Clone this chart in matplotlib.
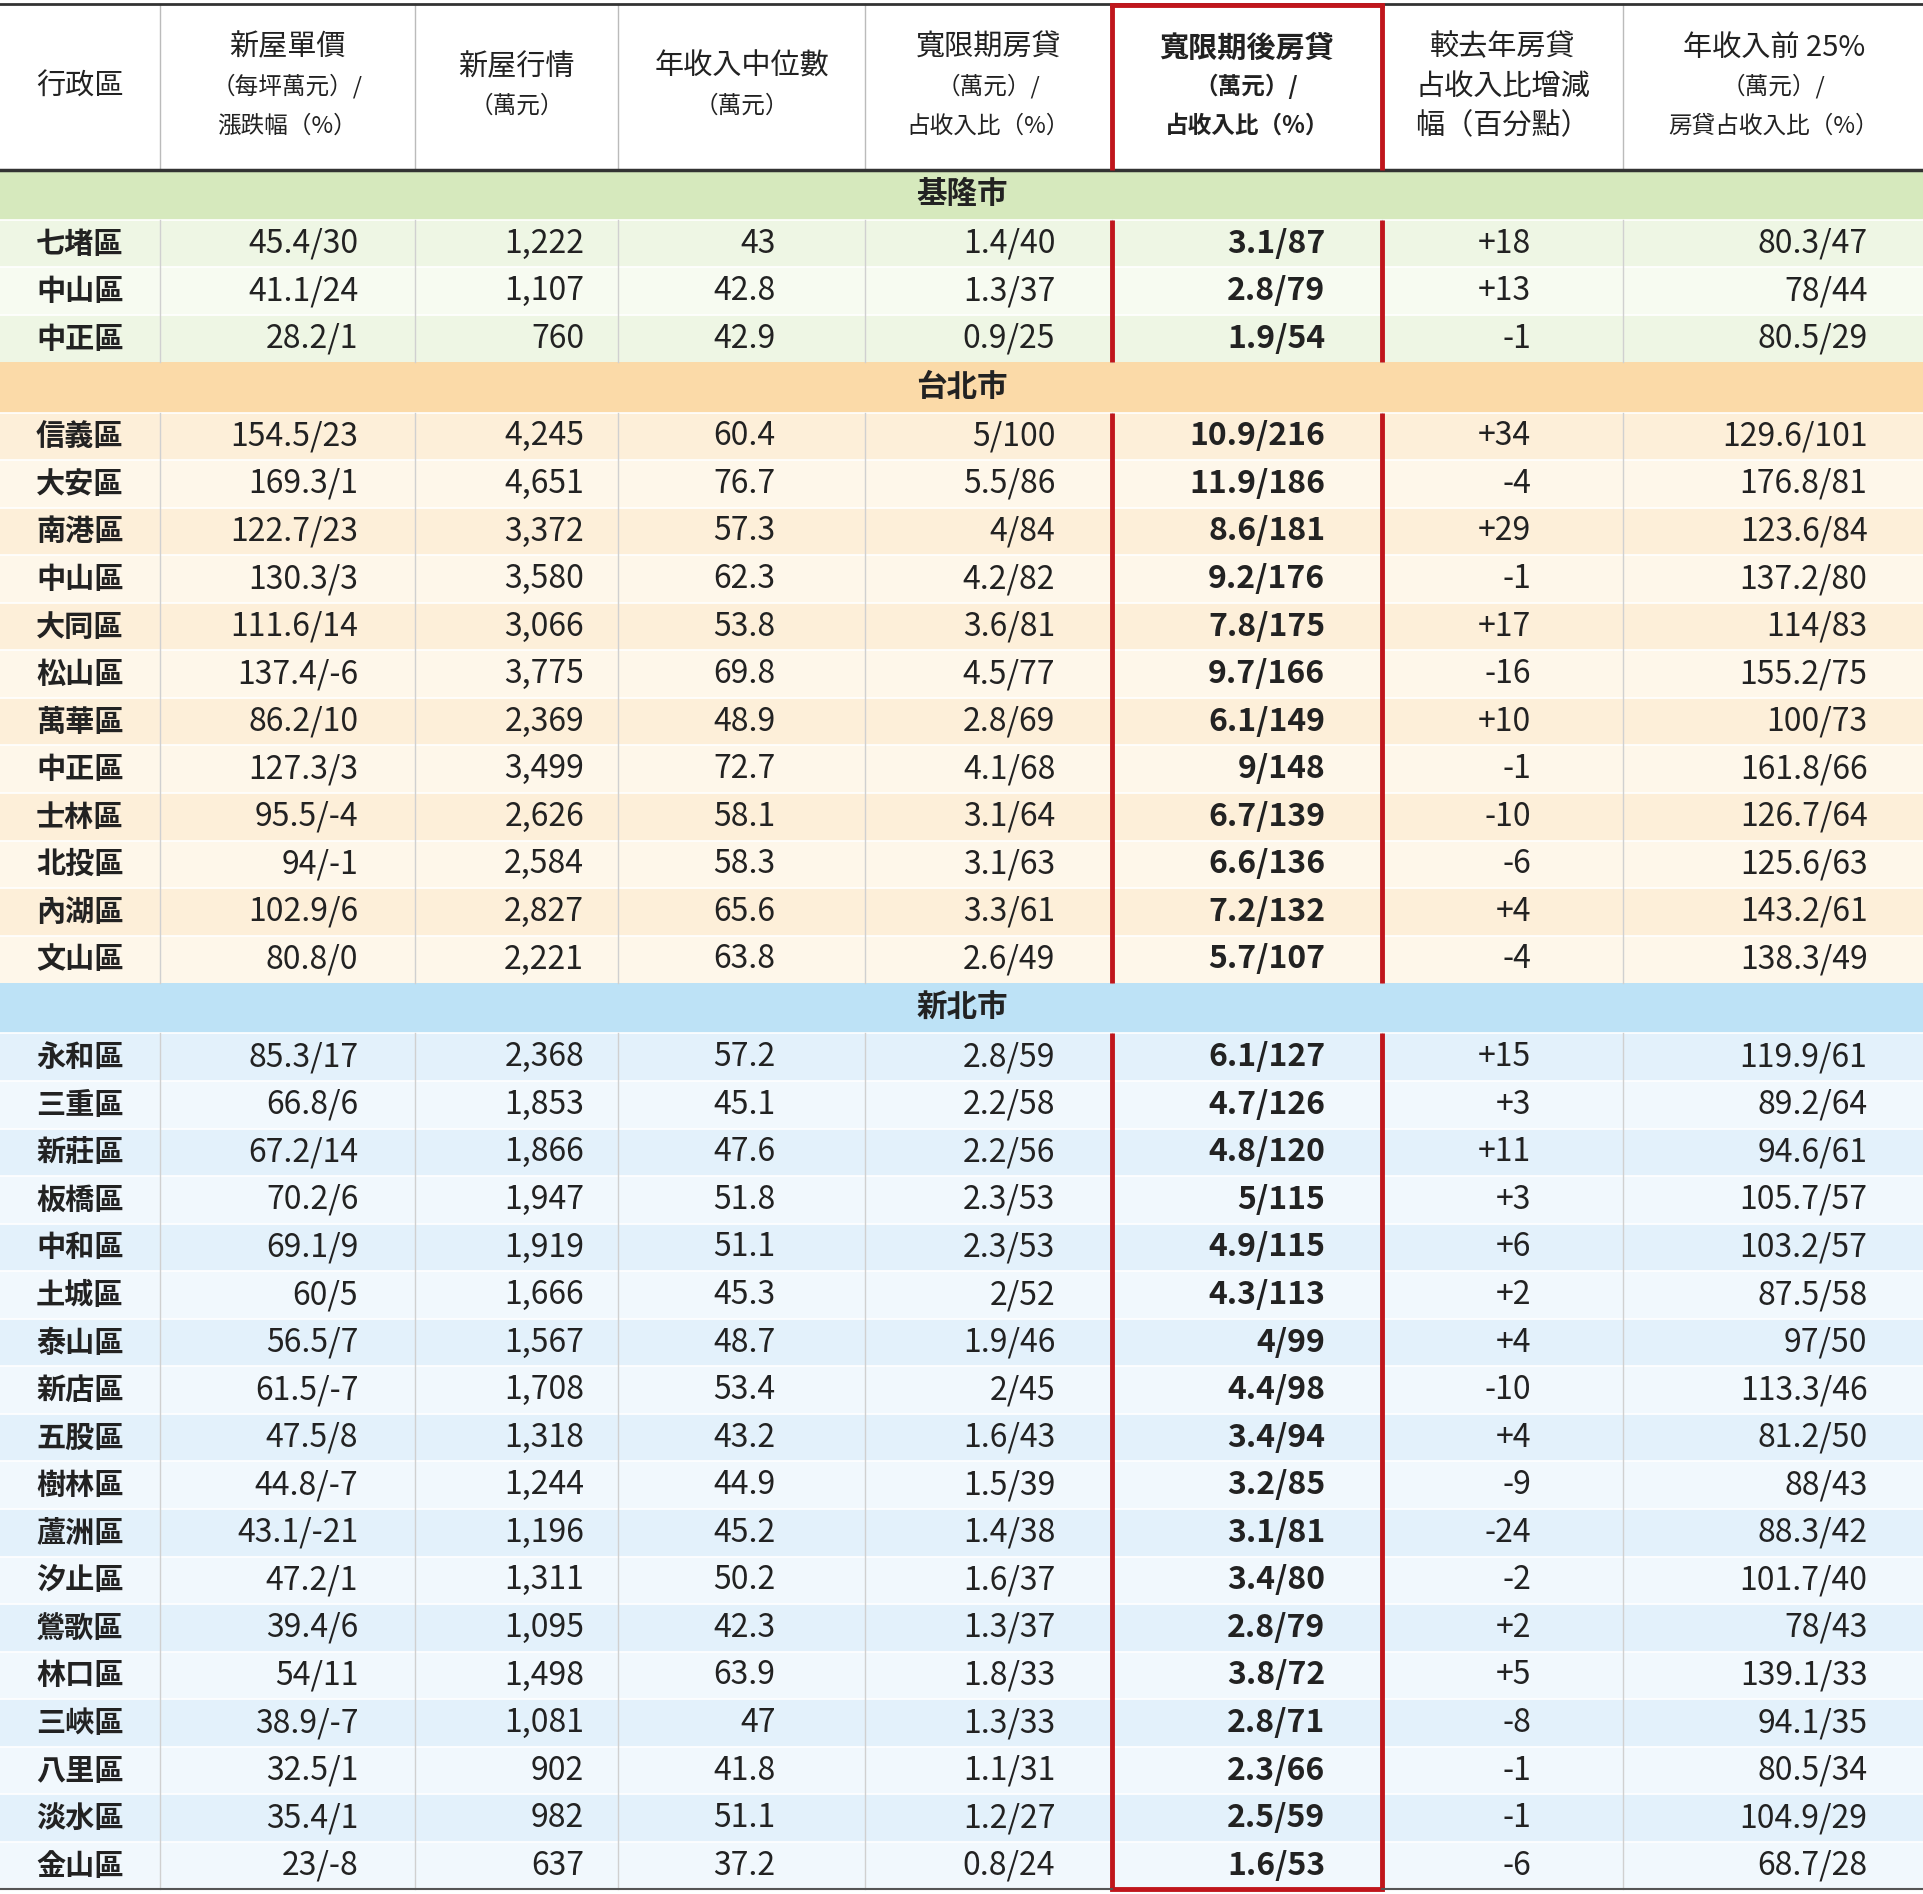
import matplotlib
matplotlib.use("Agg")
import matplotlib.pyplot as plt
from matplotlib.patches import Rectangle

plt.rcParams["font.family"] = ["Noto Sans CJK JP", "Noto Sans CJK TC", "Noto Sans CJK SC", "DejaVu Sans"]

headers = ["行政區", "新屋單價\n（每坪萬元）/\n漲跌幅（%）", "新屋行情\n（萬元）", "年收入中位數\n（萬元）",
           "寬限期房貸\n（萬元）/\n占收入比（%）", "寬限期後房貸\n（萬元）/\n占收入比（%）",
           "較去年房貸\n占收入比增減\n幅（百分點）", "年收入前 25%\n（萬元）/\n房貸占收入比（%）"]

groups = ["基隆市", "台北市", "新北市"]
keelung = [
    ["七堵區", "45.4/30", "1,222", "43", "1.4/40", "3.1/87", "+18", "80.3/47"],
    ["中山區", "41.1/24", "1,107", "42.8", "1.3/37", "2.8/79", "+13", "78/44"],
    ["中正區", "28.2/1", "760", "42.9", "0.9/25", "1.9/54", "-1", "80.5/29"],
]
taipei = [
    ["信義區", "154.5/23", "4,245", "60.4", "5/100", "10.9/216", "+34", "129.6/101"],
    ["大安區", "169.3/1", "4,651", "76.7", "5.5/86", "11.9/186", "-4", "176.8/81"],
    ["南港區", "122.7/23", "3,372", "57.3", "4/84", "8.6/181", "+29", "123.6/84"],
    ["中山區", "130.3/3", "3,580", "62.3", "4.2/82", "9.2/176", "-1", "137.2/80"],
    ["大同區", "111.6/14", "3,066", "53.8", "3.6/81", "7.8/175", "+17", "114/83"],
    ["松山區", "137.4/-6", "3,775", "69.8", "4.5/77", "9.7/166", "-16", "155.2/75"],
    ["萬華區", "86.2/10", "2,369", "48.9", "2.8/69", "6.1/149", "+10", "100/73"],
    ["中正區", "127.3/3", "3,499", "72.7", "4.1/68", "9/148", "-1", "161.8/66"],
    ["士林區", "95.5/-4", "2,626", "58.1", "3.1/64", "6.7/139", "-10", "126.7/64"],
    ["北投區", "94/-1", "2,584", "58.3", "3.1/63", "6.6/136", "-6", "125.6/63"],
    ["內湖區", "102.9/6", "2,827", "65.6", "3.3/61", "7.2/132", "+4", "143.2/61"],
    ["文山區", "80.8/0", "2,221", "63.8", "2.6/49", "5.7/107", "-4", "138.3/49"],
]
newtaipei = [
    ["永和區", "85.3/17", "2,368", "57.2", "2.8/59", "6.1/127", "+15", "119.9/61"],
    ["三重區", "66.8/6", "1,853", "45.1", "2.2/58", "4.7/126", "+3", "89.2/64"],
    ["新莊區", "67.2/14", "1,866", "47.6", "2.2/56", "4.8/120", "+11", "94.6/61"],
    ["板橋區", "70.2/6", "1,947", "51.8", "2.3/53", "5/115", "+3", "105.7/57"],
    ["中和區", "69.1/9", "1,919", "51.1", "2.3/53", "4.9/115", "+6", "103.2/57"],
    ["土城區", "60/5", "1,666", "45.3", "2/52", "4.3/113", "+2", "87.5/58"],
    ["泰山區", "56.5/7", "1,567", "48.7", "1.9/46", "4/99", "+4", "97/50"],
    ["新店區", "61.5/-7", "1,708", "53.4", "2/45", "4.4/98", "-10", "113.3/46"],
    ["五股區", "47.5/8", "1,318", "43.2", "1.6/43", "3.4/94", "+4", "81.2/50"],
    ["樹林區", "44.8/-7", "1,244", "44.9", "1.5/39", "3.2/85", "-9", "88/43"],
    ["蘆洲區", "43.1/-21", "1,196", "45.2", "1.4/38", "3.1/81", "-24", "88.3/42"],
    ["汐止區", "47.2/1", "1,311", "50.2", "1.6/37", "3.4/80", "-2", "101.7/40"],
    ["鶯歌區", "39.4/6", "1,095", "42.3", "1.3/37", "2.8/79", "+2", "78/43"],
    ["林口區", "54/11", "1,498", "63.9", "1.8/33", "3.8/72", "+5", "139.1/33"],
    ["三峽區", "38.9/-7", "1,081", "47", "1.3/33", "2.8/71", "-8", "94.1/35"],
    ["八里區", "32.5/1", "902", "41.8", "1.1/31", "2.3/66", "-1", "80.5/34"],
    ["淡水區", "35.4/1", "982", "51.1", "1.2/27", "2.5/59", "-1", "104.9/29"],
    ["金山區", "23/-8", "637", "37.2", "0.8/24", "1.6/53", "-6", "68.7/28"],
]
group_rows = [keelung, taipei, newtaipei]

col_edges = [0, 130, 338, 504, 705, 906, 1126, 1323, 1568]
text_right = [None, 292, 476, 632, 860, 1080, 1248, 1522]
group_colors = ["#d6e9bd", "#fbdaa8", "#bde2f6"]
row_colors = [("#eef6e4", "#f7fbf1"), ("#fdefd9", "#fef7ea"), ("#e3f1fb", "#f1f8fd")]

HEAD = 3.47
n_total = sum(len(g) + 1 for g in group_rows)

fig = plt.figure(figsize=(19.24, 18.94), dpi=100)
ax = fig.add_axes([0, 0.0, 1, 1])
ax.set_xlim(0, 1568)
top_pad = 3 / 38.9
ax.set_ylim(HEAD + n_total + 0.08, -top_pad)
ax.axis("off")

for i, h in enumerate(headers):
    cx = (col_edges[i] + col_edges[i + 1]) / 2
    lines = h.split("\n")
    n = len(lines)
    ys = [HEAD / 2 + (k - (n - 1) / 2) * 0.82 for k in range(n)]
    for k, (ln, y) in enumerate(zip(lines, ys)):
        sub = k > 0 and i != 6
        bold = (i == 5)
        fs = 17 if sub else 21
        ax.text(cx, y, ln, ha="center", va="center", fontsize=fs,
                fontweight="bold" if bold else "normal", color="#222222")
for x in col_edges[1:-1]:
    ax.plot([x, x], [0, HEAD], color="#bbbbbb", lw=1)
ax.plot([0, 1568], [0, 0], color="#333333", lw=2)
ax.plot([0, 1568], [HEAD, HEAD], color="#333333", lw=2.5)

red_segments = [(0, HEAD)]
y = HEAD
for gi, (gname, rows) in enumerate(zip(groups, group_rows)):
    ax.add_patch(Rectangle((0, y), 1568, 1.05, color=group_colors[gi], lw=0))
    ax.text(784, y + 0.52, gname, ha="center", va="center", fontsize=22, fontweight="bold", color="#222222")
    y += 1.05
    start = y
    for ri, r in enumerate(rows):
        rh = 0.995
        ax.add_patch(Rectangle((0, y), 1568, rh, color=row_colors[gi][ri % 2], lw=0))
        ax.plot([0, 1568], [y, y], color="white", lw=1.2)
        for ci, val in enumerate(r):
            if ci == 0:
                ax.text(65, y + rh / 2, val, ha="center", va="center", fontsize=21,
                        fontweight="bold", color="#222222")
            else:
                ax.text(text_right[ci], y + rh / 2, val, ha="right", va="center",
                        fontsize=23, fontweight="bold" if ci == 5 else "normal", color="#222222")
        y += rh
    for x in col_edges[1:-1]:
        ax.plot([x, x], [start, y], color="#d0d0d0", lw=1)
    red_segments.append((start, y))

for (a, b) in red_segments:
    for x in (906, 1126):
        ax.plot([x, x], [a, b], color="#c0161c", lw=3.5, solid_capstyle="butt")
ax.plot([906, 1126], [0.02, 0.02], color="#c0161c", lw=3.5)
ax.plot([906, 1126], [y, y], color="#c0161c", lw=3.5)
ax.plot([0, 906], [y, y], color="#555555", lw=1.5)
ax.plot([1126, 1568], [y, y], color="#555555", lw=1.5)

fig.savefig("out.png", dpi=100, facecolor="white")
